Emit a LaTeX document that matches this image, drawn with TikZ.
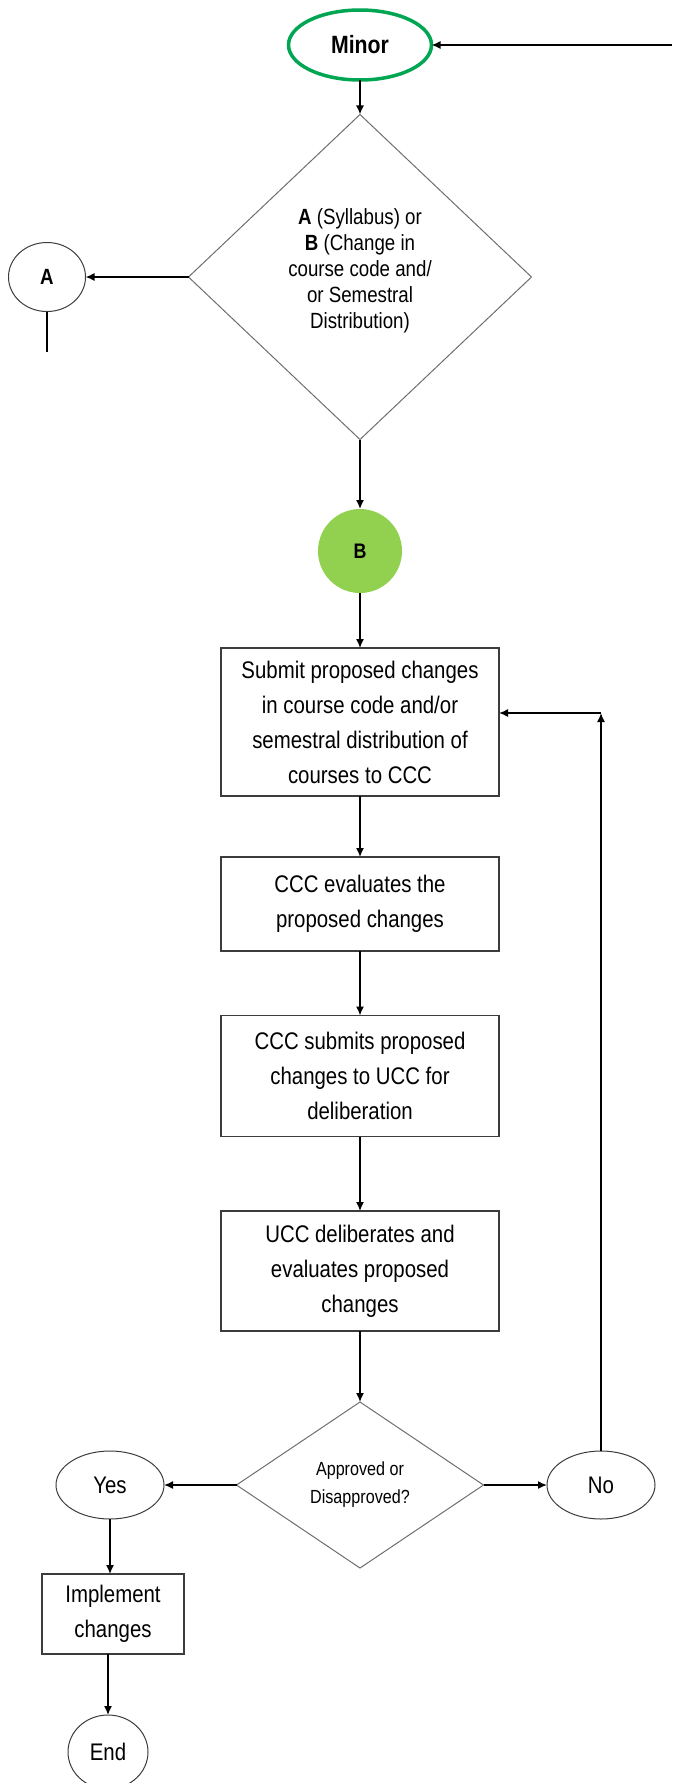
\documentclass[tikz,border=0pt]{standalone}
\usepackage{fontspec}
\setmainfont[FakeStretch=0.85]{Liberation Sans}
\usetikzlibrary{shapes.geometric,arrows.meta}
\definecolor{ringgreen}{RGB}{0,166,81}
\definecolor{bgreen}{RGB}{146,208,80}
\definecolor{edgegray}{RGB}{60,60,60}
\definecolor{diagray}{RGB}{110,110,110}
\begin{document}
\begin{tikzpicture}[x=1pt,y=1pt,
  every node/.style={inner sep=0pt, outer sep=0pt},
  boxnode/.style={draw=edgegray, line width=1.3pt, rectangle, minimum width=278, align=center, font=\fontsize{24}{35}\selectfont},
  decision/.style={draw=diagray, line width=1pt, diamond, align=center},
  oval/.style={draw=edgegray, line width=1pt, ellipse, font=\fontsize{24}{28}\selectfont},
  arr/.style={draw=black, line width=1.5pt, -{Latex[length=9pt,width=8pt]}},
  plainline/.style={draw=black, line width=1.5pt},
]
\useasboundingbox (0,0) rectangle (672,-1783);

\node[ellipse, draw=ringgreen, line width=3.5pt, minimum width=143, minimum height=70, font=\bfseries\fontsize{25}{28}\selectfont] (minor) at (360,-45) {Minor};
\node[decision, minimum width=343, minimum height=325, text depth=17pt, font=\fontsize{22}{26}\selectfont] (d1) at (360,-277) {\textbf{A} (Syllabus) or\\\textbf{B} (Change in\\course code and/\\or Semestral\\Distribution)};
\node[oval, minimum width=77, minimum height=69, font=\bfseries\fontsize{22}{26}\selectfont] (a) at (47,-277) {A};
\node[circle, fill=bgreen, minimum size=84, font=\bfseries\fontsize{21}{24}\selectfont] (b) at (360,-551) {B};
\node[boxnode, minimum height=148] (s1) at (360,-722) {Submit proposed changes\\in course code and/or\\semestral distribution of\\courses to CCC};
\node[boxnode, minimum height=94] (s2) at (360,-904) {CCC evaluates the\\proposed changes};
\node[boxnode, minimum height=121] (s3) at (360,-1076) {CCC submits proposed\\changes to UCC for\\deliberation};
\node[boxnode, minimum height=120] (s4) at (360,-1271) {UCC deliberates and\\evaluates proposed\\changes};
\node[decision, minimum width=247, minimum height=166, font=\fontsize{19}{28}\selectfont] (d2) at (360,-1485) {Approved or\\Disapproved?};
\node[oval, minimum width=108, minimum height=68] (yes) at (110,-1485) {Yes};
\node[oval, minimum width=108, minimum height=68] (no) at (601,-1485) {No};
\node[boxnode, minimum width=142, minimum height=80] (impl) at (113,-1614) {Implement\\changes};
\node[oval, minimum width=80, minimum height=74] (end) at (108,-1752) {End};

\coordinate (rin) at (672,-45);
\coordinate (aend) at (47,-352);
\coordinate (loop) at (601,-713);

\draw[arr] (rin) -- (minor.east);
\draw[arr] (minor) -- (d1);
\draw[arr] (d1.west) -- (a.east);
\draw[plainline] (a.south) -- (aend);
\draw[arr] (d1.south) -- (b.north);
\draw[arr] (b) -- (s1);
\draw[arr] (s1) -- (s2);
\draw[arr] (s2) -- (s3);
\draw[arr] (s3) -- (s4);
\draw[arr] (s4) -- (d2);
\draw[arr] (d2.west) -- (yes.east);
\draw[arr] (d2.east) -- (no.west);
\draw[arr] (no.north) -- (loop);
\draw[arr] (loop) -- (loop -| s1.east);
\draw[arr] (yes.south) -- (yes.south |- impl.north);
\draw[arr] (end.north |- impl.south) -- (end.north);
\end{tikzpicture}
\end{document}
